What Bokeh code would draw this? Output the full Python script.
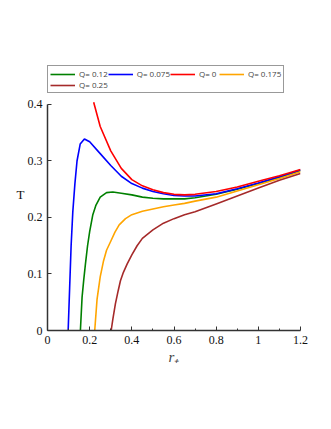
from bokeh.plotting import figure
from bokeh.models import Legend, LegendItem, FixedTicker
from bokeh.embed import file_html
from bokeh.resources import INLINE

# Q = 0
r_q0 = [0.219, 0.25, 0.30, 0.35, 0.40, 0.45, 0.50, 0.55, 0.60, 0.65, 0.70, 0.80, 0.90, 1.0, 1.1, 1.2]
t_q0 = [0.404, 0.361, 0.318, 0.287, 0.267, 0.256, 0.249, 0.244, 0.241, 0.240, 0.241, 0.246, 0.254, 0.264, 0.274, 0.285]

# Q = 0.075
r_q075 = [0.098, 0.105, 0.112, 0.12, 0.13, 0.14, 0.155, 0.175, 0.20, 0.25, 0.30, 0.35, 0.40, 0.45, 0.50,
          0.55, 0.60, 0.65, 0.70, 0.80, 0.90, 1.0, 1.1, 1.2]
t_q075 = [0.0, 0.075, 0.15, 0.21, 0.26, 0.30, 0.330, 0.339, 0.334, 0.313, 0.292, 0.273, 0.260, 0.252, 0.246,
          0.242, 0.239, 0.238, 0.238, 0.242, 0.251, 0.261, 0.272, 0.284]

# Q = 0.12
r_q12 = [0.156, 0.164, 0.172, 0.180, 0.19, 0.20, 0.215, 0.23, 0.25, 0.28, 0.31, 0.35, 0.40, 0.45, 0.50,
         0.55, 0.60, 0.65, 0.70, 0.80, 0.90, 1.0, 1.1, 1.2]
t_q12 = [0.0, 0.059, 0.09, 0.118, 0.15, 0.175, 0.205, 0.222, 0.236, 0.244, 0.245, 0.243, 0.240, 0.236, 0.234,
         0.233, 0.233, 0.233, 0.235, 0.241, 0.250, 0.260, 0.271, 0.283]

# Q = 0.175
r_q175 = [0.224, 0.235, 0.25, 0.265, 0.28, 0.30, 0.32, 0.34, 0.37, 0.40, 0.45, 0.50, 0.55, 0.60, 0.65,
          0.70, 0.80, 0.90, 1.0, 1.1, 1.2]
t_q175 = [0.0, 0.055, 0.095, 0.122, 0.142, 0.158, 0.174, 0.187, 0.198, 0.205, 0.211, 0.215, 0.219, 0.222, 0.225,
          0.229, 0.236, 0.247, 0.258, 0.269, 0.281]

# Q = 0.25
r_q25 = [0.302, 0.31, 0.322, 0.335, 0.346, 0.36, 0.378, 0.40, 0.425, 0.45, 0.50, 0.55, 0.60, 0.65, 0.70,
         0.80, 0.90, 1.0, 1.1, 1.2]
t_q25 = [0.0, 0.02, 0.047, 0.07, 0.088, 0.103, 0.118, 0.134, 0.150, 0.163, 0.178, 0.190, 0.198, 0.205, 0.210,
         0.224, 0.238, 0.252, 0.266, 0.278]

labels = ["Q= 0.12", "Q= 0.075", "Q= 0", "Q= 0.175", "Q= 0.25"]
colors = ["#008000", "#0000ff", "#ff0000", "#ffa500", "#a52a2a"]
x_ticks = [0, 0.2, 0.4, 0.6, 0.8, 1.0, 1.2]
x_tick_labels = {0: "0", 0.2: "0.2", 0.4: "0.4", 0.6: "0.6", 0.8: "0.8", 1.0: "1", 1.2: "1.2"}
y_ticks = [0, 0.1, 0.2, 0.3, 0.4]
y_tick_labels = {0: "0", 0.1: "0.1", 0.2: "0.2", 0.3: "0.3", 0.4: "0.4"}

SERIF = "'Liberation Serif', 'Times New Roman', serif"

# frame extends above T=0.4 to leave room for the legend; the axis line stops at 0.4
p = figure(frame_width=253, frame_height=272, x_range=(0, 1.2), y_range=(0, 0.4814),
           output_backend="svg", toolbar_location=None,
           min_border_left=47, min_border_right=23, min_border_top=58, min_border_bottom=90)
p.outline_line_color = None
p.xgrid.visible = False
p.ygrid.visible = False

series = [(r_q12, t_q12), (r_q075, t_q075), (r_q0, t_q0), (r_q175, t_q175), (r_q25, t_q25)]
renderers = []
for (xs, ys), c in zip(series, colors):
    renderers.append(p.line(xs, ys, line_color=c, line_width=1.6))

for ax in (p.xaxis[0], p.yaxis[0]):
    ax.axis_line_color = "#333333"
    ax.axis_line_width = 1.5
    ax.major_tick_line_color = "#333333"
    ax.minor_tick_line_color = "#333333"
    ax.major_tick_in = 4
    ax.major_tick_out = 0
    ax.minor_tick_in = 2
    ax.minor_tick_out = 0
    ax.major_label_text_font = SERIF
    ax.major_label_text_font_size = "12px"
    ax.major_label_text_color = "#111111"

p.yaxis[0].bounds = (0, 0.4)
p.xaxis[0].ticker = FixedTicker(ticks=x_ticks, minor_ticks=[0.1, 0.3, 0.5, 0.7, 0.9, 1.1])
p.xaxis[0].major_label_overrides = x_tick_labels
p.yaxis[0].ticker = FixedTicker(ticks=y_ticks, minor_ticks=[])
p.yaxis[0].major_label_overrides = y_tick_labels
p.xaxis[0].major_label_standoff = 5
p.yaxis[0].major_label_standoff = 5

p.xaxis[0].axis_label = "r\u208A"
p.xaxis[0].axis_label_text_font = SERIF
p.xaxis[0].axis_label_text_font_style = "italic"
p.xaxis[0].axis_label_text_font_size = "15px"
p.xaxis[0].axis_label_standoff = 2

p.yaxis[0].axis_label = "T"
p.yaxis[0].axis_label_text_font = SERIF
p.yaxis[0].axis_label_text_font_style = "normal"
p.yaxis[0].axis_label_text_font_size = "13px"
p.yaxis[0].axis_label_text_color = "#111111"
p.yaxis[0].axis_label_standoff = 0
try:
    p.yaxis[0].axis_label_orientation = "horizontal"
except Exception:
    pass

legend = Legend(items=[LegendItem(label=l, renderers=[r]) for l, r in zip(labels, renderers)],
                orientation="horizontal", ncols=4, location=(0, 237),
                border_line_color="#333333", border_line_width=1.5,
                background_fill_color="white", background_fill_alpha=1.0,
                label_text_font="Open Sans", label_text_font_size="8px",
                glyph_width=25, glyph_height=8, label_standoff=4, label_height=8,
                spacing=0, padding=2, margin=0)
p.add_layout(legend, "center")

open("out.html", "w").write(file_html(p, INLINE))
